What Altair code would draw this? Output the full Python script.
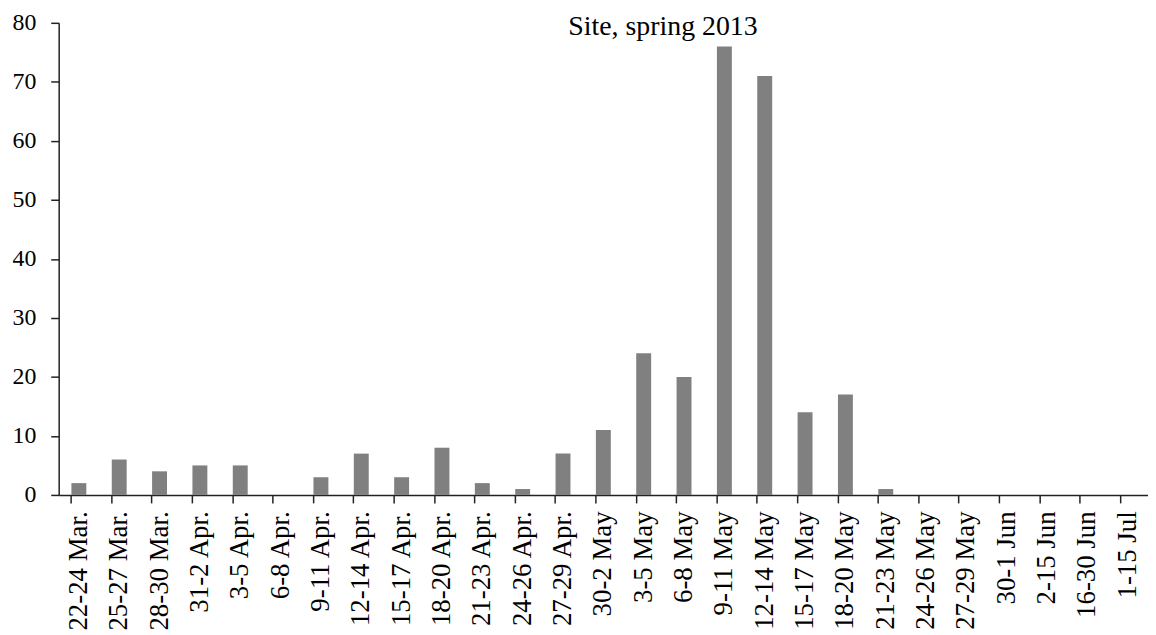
import altair as alt
import pandas as pd

categories = ["22-24 Mar.", "25-27 Mar.", "28-30 Mar.", "31-2 Apr.", "3-5 Apr.", "6-8 Apr.",
              "9-11 Apr.", "12-14 Apr.", "15-17 Apr.", "18-20 Apr.", "21-23 Apr.", "24-26 Apr.",
              "27-29 Apr.", "30-2 May", "3-5 May", "6-8 May", "9-11 May", "12-14 May",
              "15-17 May", "18-20 May", "21-23 May", "24-26 May", "27-29 May", "30-1 Jun",
              "2-15 Jun", "16-30 Jun", "1-15 Jul"]
values = [2, 6, 4, 5, 5, 0, 3, 7, 3, 8, 2, 1, 7, 11, 24, 20, 76, 71, 14, 17, 1, 0, 0, 0, 0, 0, 0]
title_text = ["Site, spring 2013"]

df = pd.DataFrame({"period": categories, "count": values})

FONT = "Liberation Serif"
AXC = "#222222"

xscale = alt.Scale(domain=categories, paddingInner=0.63, paddingOuter=0.315)

bars = alt.Chart(df).mark_bar(color="#808080").encode(
    x=alt.X("period:N", scale=xscale, sort=categories,
            axis=alt.Axis(title=None, labelAngle=-90, bandPosition=0, labelFont=FONT,
                          labelFontSize=27, labelColor="black", labelPadding=8,
                          tickSize=8, tickColor=AXC, tickWidth=1.5, domainColor=AXC,
                          domainWidth=1.5, labelAlign="right", labelBaseline="middle",
                          grid=False)),
    y=alt.Y("count:Q", scale=alt.Scale(domain=[0, 80], nice=False),
            axis=alt.Axis(title=None, values=list(range(0, 81, 10)), labelFont=FONT,
                          labelFontSize=24, labelColor="black", labelPadding=15,
                          tickSize=8, tickColor=AXC, tickWidth=1.5, domainColor=AXC,
                          domainWidth=1.5, grid=False)),
)

title = alt.Chart(pd.DataFrame({"t": title_text})).mark_text(
    font=FONT, fontSize=28, color="black", align="center", baseline="alphabetic"
).encode(text="t:N", x=alt.value(608), y=alt.value(12))

chart = alt.layer(bars, title).properties(
    width=1096, height=475,
    autosize=alt.AutoSizeParams(type="none"),
    padding={"left": 51, "top": 13, "right": 0, "bottom": 137},
).configure_view(stroke=None)

chart.save("out.html", embed_options={"renderer": "svg", "actions": False})
